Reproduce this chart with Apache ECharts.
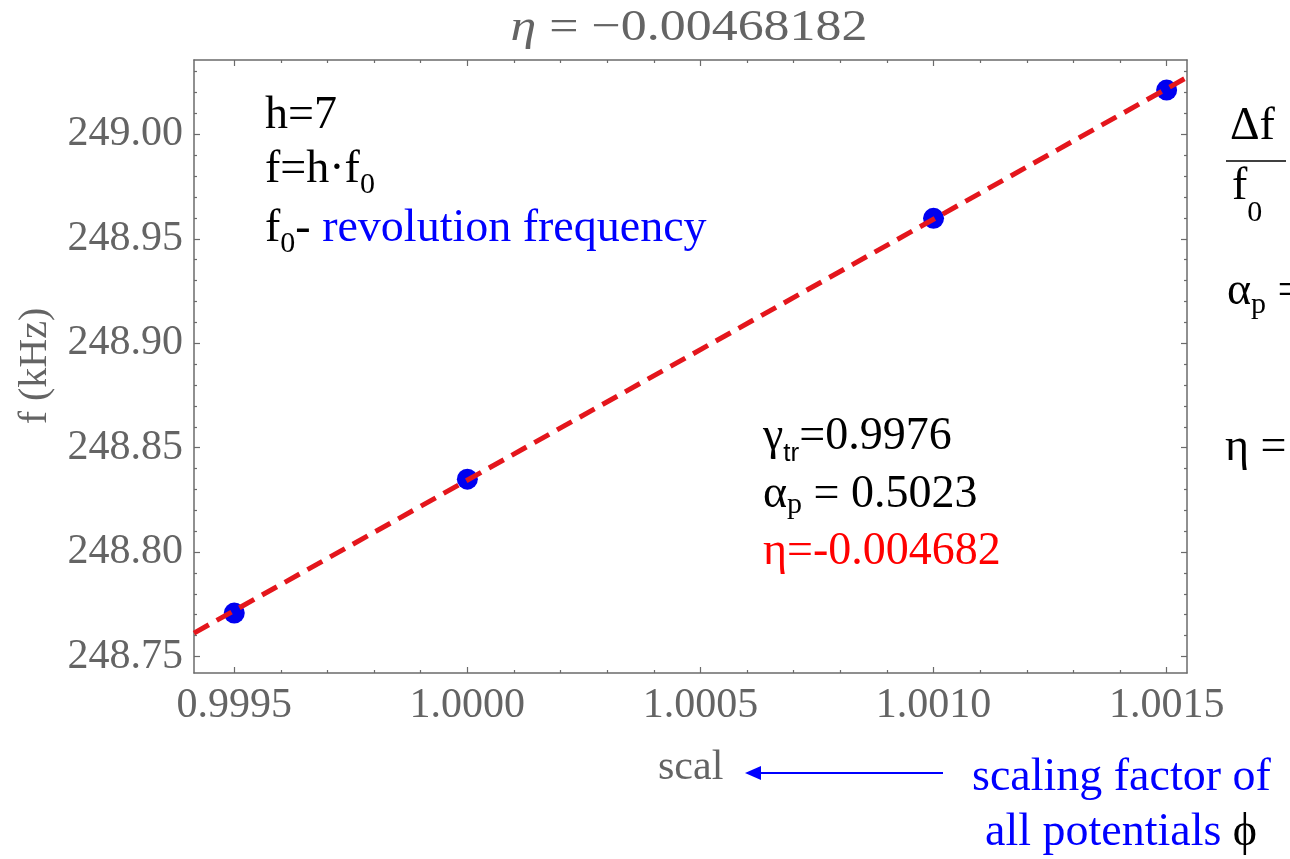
<!DOCTYPE html>
<html>
<head>
<meta charset="utf-8">
<script src="https://cdn.jsdelivr.net/npm/echarts@6/dist/echarts.min.js"></script>
<style>
  html, body { margin: 0; padding: 0; background: #ffffff; }
  #chart { width: 1290px; height: 859px; }
  .font-warm { position: absolute; left: -9999px; top: 0; font-size: 40px; }
</style>
</head>
<body>
<span class="font-warm" style="font-family:'Liberation Serif'">h=7 ηαγΔϕ 0123456789</span>
<span class="font-warm" style="font-family:'Liberation Serif';font-style:italic">η</span>
<span class="font-warm" style="font-family:'Liberation Sans'">tr</span>
<div id="chart"></div>
<script>
// Measured RF frequency versus potential scaling factor
const scalValues = [0.9995, 1.0000, 1.0010, 1.0015];
const freqValues = [248.7708, 248.8349, 248.9598, 249.0212];

// Linear fit through the measurements (end points at the frame edges)
const fitScal = [0.9994136, 1.0015437];
const fitFreq = [248.7612, 249.0273];

// Axis extents and tick positions
const xRange = [0.9994136, 1.0015437];
const yRange = [248.7421, 249.0356];
const xMajorTicks = [0.9995, 1.0000, 1.0005, 1.0010, 1.0015];
const xMinorTicks = [0.9996, 0.9997, 0.9998, 0.9999, 1.0001, 1.0002, 1.0003, 1.0004,
                     1.0006, 1.0007, 1.0008, 1.0009, 1.0011, 1.0012, 1.0013, 1.0014];
const yMajorTicks = [248.75, 248.80, 248.85, 248.90, 248.95, 249.00];
const yMinorTicks = [248.76, 248.77, 248.78, 248.79, 248.81, 248.82, 248.83, 248.84,
                     248.86, 248.87, 248.88, 248.89, 248.91, 248.92, 248.93, 248.94,
                     248.96, 248.97, 248.98, 248.99, 249.01, 249.02, 249.03];

const SERIF = 'Liberation Serif';
const SANS = 'Liberation Sans';
const FRAME = '#6b6b6b';
const TICK_TEXT = '#646464';

function frameAxis(position, range, ticks, len, opts) {
  opts = opts || {};
  return {
    type: 'value',
    gridIndex: 0,
    position: position,
    min: range[0],
    max: range[1],
    axisLine: { show: !!opts.line, onZero: false, lineStyle: { color: FRAME, width: 1.5 } },
    axisTick: { show: true, inside: true, length: len, customValues: ticks,
                lineStyle: { color: FRAME, width: 1.2 } },
    axisLabel: opts.labels ? Object.assign({
      show: true,
      customValues: ticks,
      color: TICK_TEXT,
      fontFamily: SERIF,
      fontSize: 42
    }, opts.labels) : { show: false },
    splitLine: { show: false },
    minorTick: { show: false },
    silent: true
  };
}

// Rich text styles shared by the annotations
const rich = {
  m:   { fontSize: 46, fontFamily: SERIF, fill: '#000000', lineHeight: 60 },
  b:   { fontSize: 46, fontFamily: SERIF, fill: '#0000ff', lineHeight: 60 },
  r:   { fontSize: 46, fontFamily: SERIF, fill: '#ff0000', lineHeight: 60 },
  s10: { fontSize: 30, fontFamily: SERIF, fill: '#000000', lineHeight: 60, padding: [31, 0, 0, 0] },
  s5:  { fontSize: 30, fontFamily: SERIF, fill: '#000000', lineHeight: 60, padding: [21, 0, 0, 0] },
  s8:  { fontSize: 30, fontFamily: SERIF, fill: '#000000', lineHeight: 60, padding: [27, 0, 0, 0] },
  s21: { fontSize: 30, fontFamily: SERIF, fill: '#000000', lineHeight: 60, padding: [53, 0, 0, 0] },
  tr:  { fontSize: 26, fontFamily: SANS,  fill: '#000000', lineHeight: 60, padding: [35, 0, 0, 0] }
};

function note(x, y, text) {
  return {
    type: 'text', x: x, y: y, silent: true,
    style: { text: text, rich: rich, fontFamily: SERIF, fontSize: 46,
             textAlign: 'left', textVerticalAlign: 'middle' }
  };
}

const graphics = [
  // plot label
  {
    type: 'text', x: 689, y: 28, scaleX: 1.18, silent: true,
    style: {
      text: '{i|η} = −0.00468182',
      fontFamily: SERIF, fontSize: 44, fill: TICK_TEXT,
      rich: {
        i: { fontFamily: SERIF, fontSize: 44, fontStyle: 'italic', fill: TICK_TEXT }
      },
      textAlign: 'center', textVerticalAlign: 'middle'
    }
  },
  // vertical axis name
  {
    type: 'text', x: 35, y: 366, rotation: Math.PI / 2, silent: true,
    style: { text: 'f (kHz)', fontFamily: SERIF, fontSize: 40, fill: TICK_TEXT,
             textAlign: 'center', textVerticalAlign: 'middle' }
  },
  // horizontal axis name
  {
    type: 'text', x: 658, y: 768, silent: true,
    style: { text: 'scal', fontFamily: SERIF, fontSize: 42, fill: TICK_TEXT,
             textAlign: 'left', textVerticalAlign: 'middle' }
  },
  // arrow pointing at the axis name
  {
    type: 'line', silent: true,
    shape: { x1: 943, y1: 773, x2: 758, y2: 773 },
    style: { stroke: '#0000ff', lineWidth: 2.2 }
  },
  {
    type: 'polygon', silent: true,
    shape: { points: [[745, 773], [761, 766], [761, 780]] },
    style: { fill: '#0000ff' }
  },
  // definitions in the upper left
  note(265, 115.5, '{m|h=7}'),
  note(265, 169.5, '{m|f=h·f}{s10|0}'),
  note(265, 228.5, '{m|f}{s10|0}{m|- }{b|revolution frequency}'),
  // fit results
  note(763, 436.5, '{m|γ}{tr|tr}{m|=0.9976}'),
  note(763, 494.5, '{m|α}{s5|p}{m| = 0.5023}'),
  note(763, 551.5, '{r|η=-0.004682}'),
  // relations at the right edge
  note(1230, 126.5, '{m|Δf}'),
  {
    type: 'line', silent: true,
    shape: { x1: 1226, y1: 161, x2: 1286, y2: 161 },
    style: { stroke: '#000000', lineWidth: 1.6 }
  },
  note(1232, 186.5, '{m|f}{s21|0}'),
  note(1227, 291.5, '{m|α}{s8|p}{m| =}'),
  note(1225, 447.5, '{m|η =}'),
  // explanation of the scaling factor
  note(972, 777.5, '{b|scaling factor of}'),
  note(985, 832.5, '{b|all potentials }{m|ϕ}')
];

const option = {
  animation: false,
  backgroundColor: '#ffffff',
  textStyle: { fontFamily: SERIF },
  grid: { left: 194, top: 60, width: 993, height: 613, containLabel: false },
  xAxis: [
    frameAxis('bottom', xRange, xMajorTicks, 6, {
      line: true,
      labels: { margin: 12, formatter: v => Number(v).toFixed(4) }
    }),
    frameAxis('bottom', xRange, xMinorTicks, 3),
    frameAxis('top', xRange, xMajorTicks, 6, { line: true }),
    frameAxis('top', xRange, xMinorTicks, 3)
  ],
  yAxis: [
    frameAxis('left', yRange, yMajorTicks, 6, {
      line: true,
      labels: { margin: 11, formatter: v => Number(v).toFixed(2) }
    }),
    frameAxis('left', yRange, yMinorTicks, 3),
    frameAxis('right', yRange, yMajorTicks, 6, { line: true }),
    frameAxis('right', yRange, yMinorTicks, 3)
  ],
  series: [
    {
      type: 'scatter',
      xAxisIndex: 0,
      yAxisIndex: 0,
      data: scalValues.map((s, i) => [s, freqValues[i]]),
      symbol: 'circle',
      symbolSize: 21,
      itemStyle: { color: '#0000f0', opacity: 1 },
      z: 2,
      silent: true
    },
    {
      type: 'line',
      xAxisIndex: 0,
      yAxisIndex: 0,
      data: fitScal.map((s, i) => [s, fitFreq[i]]),
      showSymbol: false,
      symbol: 'none',
      clip: true,
      lineStyle: { color: '#e4161c', width: 5, type: [17, 9], cap: 'butt', opacity: 1 },
      z: 3,
      silent: true
    }
  ],
  graphic: { elements: graphics }
};

let chart = null;
function draw() {
  if (chart) return;
  chart = echarts.init(document.getElementById('chart'), null, { renderer: 'canvas' });
  chart.setOption(option);
}

// Make sure the serif faces are ready before the canvas text is laid out
if (document.fonts && document.fonts.load) {
  Promise.all([
    document.fonts.load('46px "Liberation Serif"'),
    document.fonts.load('italic 44px "Liberation Serif"'),
    document.fonts.load('26px "Liberation Sans"')
  ]).then(draw, draw);
  setTimeout(draw, 1500);
} else {
  draw();
}
</script>
</body>
</html>
